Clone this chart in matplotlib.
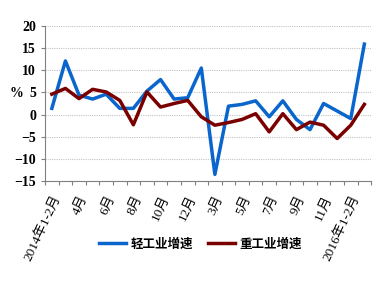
import numpy as np
import matplotlib.pyplot as plt
from matplotlib.ticker import FixedLocator

plt.rcParams['font.family'] = ['Liberation Serif', 'Noto Sans CJK SC', 'DejaVu Sans']
plt.rcParams['axes.unicode_minus'] = True

months = ["2014年1-2月"] + [f"{m}月" for m in range(3, 13)] \
    + ["2015年1-2月"] + [f"{m}月" for m in range(3, 13)] \
    + ["2016年1-2月", "3月"]

light = [1.4, 12.1, 4.4, 3.5, 4.6, 1.4, 1.4, 5.3, 7.9, 3.5, 3.8, 10.5,
         -13.5, 1.9, 2.3, 3.1, -0.5, 3.1, -1.1, -3.4, 2.5, 0.8, -0.9, 15.9]
heavy = [4.6, 5.9, 3.6, 5.7, 5.1, 3.2, -2.3, 5.1, 1.7, 2.5, 3.2, -0.5,
         -2.4, -1.8, -1.1, 0.2, -3.9, 0.2, -3.4, -1.7, -2.4, -5.4, -2.4, 2.3]

x = np.arange(len(months))

fig = plt.figure(figsize=(3.85, 2.82), dpi=100)
ax = fig.add_axes([0.117, 0.358, 0.847, 0.55])

ax.plot(x, light, color="#0a66cc", lw=2.5, label="轻工业增速")
ax.plot(x, heavy, color="#7a0000", lw=2.5, label="重工业增速")

ax.set_xlim(-0.5, len(months) - 0.5)
ax.set_ylim(-15, 20)
ax.set_yticks(range(-15, 21, 5))
ax.yaxis.grid(True, color="#c4c4c4", ls=(0, (1, 1)), lw=0.8)
ax.set_axisbelow(True)

# labels on every other category, tick marks on category boundaries
ax.set_xticks(x[::2])
ax.set_xticklabels(months[::2], rotation=65, ha="right", va="top",
                   rotation_mode="anchor", fontsize=9.5)
ax.tick_params(axis="x", which="major", length=0, pad=9)
ax.xaxis.set_minor_locator(FixedLocator(np.arange(-0.5, len(months), 1)))
ax.tick_params(axis="x", which="minor", length=3, color="#808080", width=0.8)
ax.tick_params(axis="y", length=3, color="#808080", width=0.8, labelsize=10)
for lab in ax.get_yticklabels():
    lab.set_fontweight("bold")

for s in ["top", "right"]:
    ax.spines[s].set_visible(False)
for s in ["left", "bottom"]:
    ax.spines[s].set_color("#808080")
    ax.spines[s].set_linewidth(0.8)

fig.text(0.025, 1 - 94 / 282, "%", fontsize=10, fontweight="bold", va="center")

fig.legend(loc="center", bbox_to_anchor=(0.52, 0.135), ncol=2, frameon=False,
           handlelength=2.2, columnspacing=1.2, handletextpad=0.3,
           prop={"family": ["Noto Sans CJK SC"], "weight": "bold", "size": 9})

fig.savefig("out.png", dpi=100)
